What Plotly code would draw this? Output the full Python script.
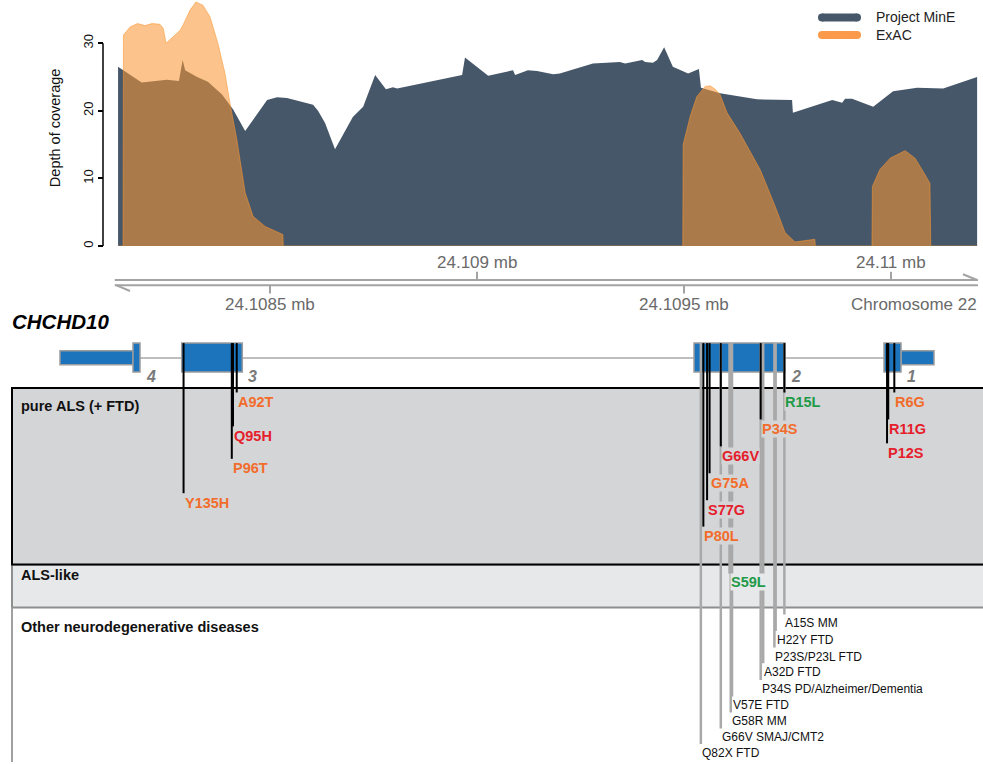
import plotly.graph_objects as go

# ---------------------------------------------------------------- coverage data
# chr22 positions (bp) and read depth
mine_pos = [24108133, 24108190, 24108251, 24108280, 24108289, 24108295, 24108324,
            24108350, 24108384, 24108411, 24108440, 24108493, 24108517, 24108541,
            24108604, 24108616, 24108633, 24108645, 24108657, 24108700, 24108725,
            24108754, 24108780, 24108797, 24108807, 24108964, 24108971, 24109027,
            24109087, 24109092, 24109123, 24109145, 24109184, 24109200, 24109280,
            24109345, 24109358, 24109399, 24109406, 24109425, 24109435, 24109452,
            24109473, 24109510, 24109536, 24109541, 24109587, 24109676, 24109761,
            24109763, 24109858, 24109882, 24109889, 24109906, 24109957, 24110005,
            24110063, 24110126, 24110208]
mine_depth = [26.5, 24.2, 24.6, 24.4, 27.5, 26.0, 25.0,
              24.3, 22.4, 20.2, 17.0, 21.6, 22.0, 21.9,
              20.9, 20.0, 18.2, 16.3, 14.3, 19.1, 20.6,
              25.3, 23.2, 23.5, 23.3, 25.3, 27.9, 25.2,
              26.0, 25.3, 26.0, 25.9, 25.4, 25.5, 27.0,
              27.2, 27.0, 27.5, 27.2, 27.1, 27.5, 29.4,
              26.5, 25.5, 26.2, 23.4, 22.6, 21.7, 21.6,
              19.7, 21.6, 21.2, 21.8, 21.8, 20.6, 22.9,
              23.4, 23.3, 25.0]

exac_pos = [24108133, 24108145, 24108146, 24108162, 24108180, 24108198, 24108215,
            24108234, 24108242, 24108249, 24108258, 24108283, 24108290, 24108307,
            24108321, 24108338, 24108355, 24108374, 24108391, 24108403, 24108420,
            24108440, 24108459, 24108488, 24108531, 24108532, 24109497, 24109498,
            24109515, 24109531, 24109551, 24109563, 24109575, 24109587, 24109604,
            24109635, 24109684, 24109720, 24109744, 24109768, 24109816, 24109817,
            24109954, 24109955, 24109973, 24109998, 24110034, 24110058, 24110075,
            24110094, 24110096, 24110208]
exac_depth = [0, 0, 31.2, 32.4, 32.9, 32.6, 32.9,
              32.8, 32.2, 30.0, 30.5, 31.9, 32.7, 34.9,
              36.1, 35.6, 33.9, 30.0, 25.6, 21.2, 15.7,
              7.9, 4.4, 2.9, 1.7, 0, 0, 15.0,
              19.2, 22.1, 23.6, 23.7, 23.2, 22.4, 19.7,
              16.7, 11.3, 5.9, 2.0, 0.6, 1.0, 0,
              0, 8.8, 11.3, 13.0, 14.1, 13.0, 11.3,
              9.3, 0, 0]

depth_ticks = [0, 10, 20, 30]
genome_ticks_up = [24109000, 24110000]
genome_ticks_down = [24108500, 24109500]
region = [24108125, 24110210]

# ---------------------------------------------------------------- gene model
exon_ids = ["4", "3", "2", "1"]
exon_cds = [(133, 140), (181.7, 242.3), (694, 785), (884, 901)]
exon_utr = [(60, 133), None, None, (901, 934)]
exon_aa = [(137, 142), (88, 136), (15, 87), (1, 14)]

# ---------------------------------------------------------------- variants
als_names = ["Y135H", "A92T", "Q95H", "P96T", "P80L", "S77G", "G75A", "G66V",
             "P34S", "R15L", "P12S", "R11G", "R6G"]
als_aa = [135, 92, 95, 96, 80, 77, 75, 66, 34, 15, 12, 11, 6]
als_class = ["o", "o", "r", "o", "o", "r", "o", "r", "o", "g", "r", "r", "o"]
als_row = [504, 403, 437, 469.5, 537.5, 511, 484, 457, 430, 403, 454, 430, 403]

alslike_names = ["S59L"]
alslike_aa = [59]
alslike_class = ["g"]
alslike_row = [584]

other_names = ["A15S MM", "H22Y FTD", "P23S/P23L FTD", "A32D FTD",
               "P34S PD/Alzheimer/Dementia", "V57E FTD", "G58R MM",
               "G66V SMAJ/CMT2", "Q82X FTD"]
other_aa = [15, 22, 23, 32, 34, 57, 58, 66, 82]
other_row = [625, 641.7, 658.3, 674, 690.7, 707.3, 723.3, 739.3, 755]

# ---------------------------------------------------------------- styles
FONT = "Liberation Sans, Arial, Helvetica, sans-serif"
NAVY = "#465769"
EXAC_FILL = "rgba(250,150,50,0.56)"
EXAC_KEY = "#FB9A4B"
EXON_BLUE = "#1C74BD"
EXON_EDGE = "#9C9C9C"
STEM_GREY = "#A9A9A9"
PANEL_ALS = "#D4D5D7"
PANEL_LIKE = "#E7E8E9"
CLASS_COLOR = {"o": "#F26C2B", "r": "#E5202B", "g": "#1F9A48"}
AXIS_GREY = "#A3A3A3"

EXON_TOP, EXON_BOT = 344, 373
UTR_TOP, UTR_BOT = 351.7, 365.7
INTRON_Y = 359


def aa_to_x(aa):
    """Place a codon along the drawn gene model (minus strand, right to left)."""
    for (c0, c1), (a0, a1) in zip(exon_cds, exon_aa):
        if a0 <= aa <= a1:
            step = (c1 - c0) / (a1 - a0 + 1)
            return c1 - (aa - a0 + 0.5) * step
    raise ValueError(aa)


fig = go.Figure()

# coverage tracks
fig.add_trace(go.Scatter(x=mine_pos, y=mine_depth, mode="lines", fill="tozeroy",
                         fillcolor=NAVY, line=dict(width=0, color=NAVY),
                         showlegend=False, hoverinfo="skip"))
fig.add_trace(go.Scatter(x=exac_pos, y=exac_depth, mode="lines", fill="tozeroy",
                         fillcolor=EXAC_FILL, line=dict(width=1, color=EXAC_FILL),
                         showlegend=False, hoverinfo="skip"))

# variant stems: grey (ALS-like / other diseases) below, black (pure ALS) on top
gx, gy = [], []
for aa, row in zip(alslike_aa + other_aa, alslike_row + other_row):
    x = aa_to_x(aa)
    gx += [x, x, None]
    gy += [EXON_TOP, row - 9, None]
fig.add_trace(go.Scatter(x=gx, y=gy, xaxis="x2", yaxis="y2", mode="lines",
                         line=dict(color=STEM_GREY, width=2.5),
                         showlegend=False, hoverinfo="skip"))
bx, by = [], []
for aa, row in zip(als_aa, als_row):
    x = aa_to_x(aa)
    bx += [x, x, None]
    by += [EXON_TOP, row - 9.5, None]
fig.add_trace(go.Scatter(x=bx, y=by, xaxis="x2", yaxis="y2", mode="lines",
                         line=dict(color="black", width=2),
                         showlegend=False, hoverinfo="skip"))

# legend keys
for key_y, col in [(17.5, NAVY), (35, EXAC_KEY)]:
    fig.add_trace(go.Scatter(x=[822, 857], y=[key_y, key_y], xaxis="x2", yaxis="y2",
                             mode="lines+markers", line=dict(color=col, width=8),
                             marker=dict(color=col, size=8),
                             showlegend=False, hoverinfo="skip"))

shapes = []
annotations = []

# depth axis line (0 to 30 only)
shapes.append(dict(type="line", xref="paper", yref="y", x0=103 / 983, x1=103 / 983,
                   y0=depth_ticks[0], y1=depth_ticks[-1],
                   line=dict(color="black", width=1.5)))

# genome axis: two strands with ticks on alternating sides
shapes.append(dict(type="line", xref="x", yref="y2", x0=region[0], x1=region[1],
                   y0=280.7, y1=280.7, line=dict(color=AXIS_GREY, width=2)))
shapes.append(dict(type="line", xref="x", yref="y2", x0=region[0], x1=region[1],
                   y0=285.9, y1=285.9, line=dict(color=AXIS_GREY, width=2)))
shapes.append(dict(type="line", xref="x2", yref="y2", x0=977, x1=963,
                   y0=280.7, y1=275, line=dict(color=AXIS_GREY, width=2)))
shapes.append(dict(type="line", xref="x2", yref="y2", x0=116, x1=130,
                   y0=285.9, y1=291.8, line=dict(color=AXIS_GREY, width=2)))
for t in genome_ticks_up:
    shapes.append(dict(type="line", xref="x", yref="y2", x0=t, x1=t, y0=272.5,
                       y1=280.7, line=dict(color=AXIS_GREY, width=2)))
    annotations.append(dict(xref="x", yref="y2", x=t, y=263.5, showarrow=False,
                            text=f"{t / 1e6:g} mb",
                            font=dict(family=FONT, size=17, color="#6A6A6A")))
for t in genome_ticks_down:
    shapes.append(dict(type="line", xref="x", yref="y2", x0=t, x1=t, y0=285.9,
                       y1=294.3, line=dict(color=AXIS_GREY, width=2)))
    annotations.append(dict(xref="x", yref="y2", x=t, y=305, showarrow=False,
                            text=f"{t / 1e6:g} mb",
                            font=dict(family=FONT, size=17, color="#6A6A6A")))
annotations.append(dict(xref="x2", yref="y2", x=979, y=305, showarrow=False,
                        xanchor="right", text="Chromosome 22",
                        font=dict(family=FONT, size=17, color="#6A6A6A")))

# phenotype panels
shapes.append(dict(type="rect", xref="x2", yref="y2", x0=12, x1=1000, y0=566, y1=609,
                   fillcolor=PANEL_LIKE, line=dict(color="#8E8E8E", width=2),
                   layer="below"))
shapes.append(dict(type="rect", xref="x2", yref="y2", x0=12, x1=1000, y0=389, y1=566,
                   fillcolor=PANEL_ALS, line=dict(color="black", width=2),
                   layer="below"))
shapes.append(dict(type="line", xref="x2", yref="y2", x0=12, x1=12, y0=609, y1=780,
                   line=dict(color="#A0A0A0", width=2), layer="below"))

# gene model: intron line, exons (UTR thin, CDS thick)
shapes.append(dict(type="line", xref="x2", yref="y2", x0=exon_cds[0][1],
                   x1=exon_cds[-1][0], y0=INTRON_Y, y1=INTRON_Y,
                   line=dict(color="#A8A8A8", width=1.5), layer="below"))
for eid, cds, utr in zip(exon_ids, exon_cds, exon_utr):
    if utr is not None:
        shapes.append(dict(type="rect", xref="x2", yref="y2", x0=utr[0], x1=utr[1],
                           y0=UTR_TOP, y1=UTR_BOT, fillcolor=EXON_BLUE,
                           line=dict(color=EXON_EDGE, width=1.5), layer="below"))
    shapes.append(dict(type="rect", xref="x2", yref="y2", x0=cds[0], x1=cds[1],
                       y0=EXON_TOP, y1=EXON_BOT, fillcolor=EXON_BLUE,
                       line=dict(color=EXON_EDGE, width=1.5), layer="below"))
    annotations.append(dict(xref="x2", yref="y2", x=cds[1] + 4, y=377,
                            xanchor="left", showarrow=False,
                            text=f"<b><i>{eid}</i></b>",
                            font=dict(family=FONT, size=16, color="#7A7A7A")))

# titles
annotations.append(dict(xref="x2", yref="y2", x=55, y=128.5, showarrow=False,
                        textangle=-90, text="Depth of coverage",
                        font=dict(family=FONT, size=14.5, color="#111111")))
annotations.append(dict(xref="x2", yref="y2", x=10, y=322, xanchor="left",
                        showarrow=False, text="<b><i>CHCHD10</i></b>",
                        font=dict(family=FONT, size=20.5, color="black")))
for txt, yy in [("pure ALS (+ FTD)", 407.5), ("ALS-like", 577),
                ("Other neurodegenerative diseases", 628.5)]:
    annotations.append(dict(xref="x2", yref="y2", x=19, y=yy, xanchor="left",
                            showarrow=False, text=f"<b>{txt}</b>",
                            font=dict(family=FONT, size=14.5, color="#111111")))

# legend text
for txt, yy in [("Project MinE", 17.5), ("ExAC", 35)]:
    annotations.append(dict(xref="x2", yref="y2", x=874, y=yy, xanchor="left",
                            showarrow=False, text=txt,
                            font=dict(family=FONT, size=14, color="#222222")))

# variant labels
for name, aa, cls, row in zip(als_names, als_aa, als_class, als_row):
    annotations.append(dict(xref="x2", yref="y2", x=aa_to_x(aa), y=row,
                            xanchor="left", showarrow=False, text=f"<b>{name}</b>",
                            bgcolor=PANEL_ALS, borderpad=0,
                            font=dict(family=FONT, size=14.5, color=CLASS_COLOR[cls])))
for name, aa, cls, row in zip(alslike_names, alslike_aa, alslike_class, alslike_row):
    annotations.append(dict(xref="x2", yref="y2", x=aa_to_x(aa), y=row,
                            xanchor="left", showarrow=False, text=f"<b>{name}</b>",
                            bgcolor=PANEL_LIKE, borderpad=0,
                            font=dict(family=FONT, size=14.5, color=CLASS_COLOR[cls])))
for name, aa, row in zip(other_names, other_aa, other_row):
    annotations.append(dict(xref="x2", yref="y2", x=aa_to_x(aa), y=row,
                            xanchor="left", showarrow=False, text=name,
                            bgcolor="white", borderpad=0,
                            font=dict(family=FONT, size=12, color="#111111")))

fig.update_layout(
    width=983, height=764,
    margin=dict(l=0, r=0, t=0, b=0),
    paper_bgcolor="white", plot_bgcolor="rgba(0,0,0,0)",
    showlegend=False,
    xaxis=dict(domain=[0, 1], range=[24107847.8, 24110222.2], visible=False,
               anchor="y"),
    yaxis=dict(domain=[1 - 246.7 / 764, 1], range=[0, 246.7 / 6.78],
               anchor="free", position=103 / 983, tickvals=depth_ticks,
               ticks="outside", ticklen=5, tickwidth=1.5, tickcolor="black",
               tickangle=-90, showgrid=False, zeroline=False, showline=False,
               tickfont=dict(family=FONT, size=13, color="#111111")),
    xaxis2=dict(domain=[0, 1], range=[0, 983], visible=False, anchor="y2"),
    yaxis2=dict(domain=[0, 1], range=[764, 0], visible=False, anchor="x2"),
    shapes=shapes,
    annotations=annotations,
)

fig.write_html("out.html")
